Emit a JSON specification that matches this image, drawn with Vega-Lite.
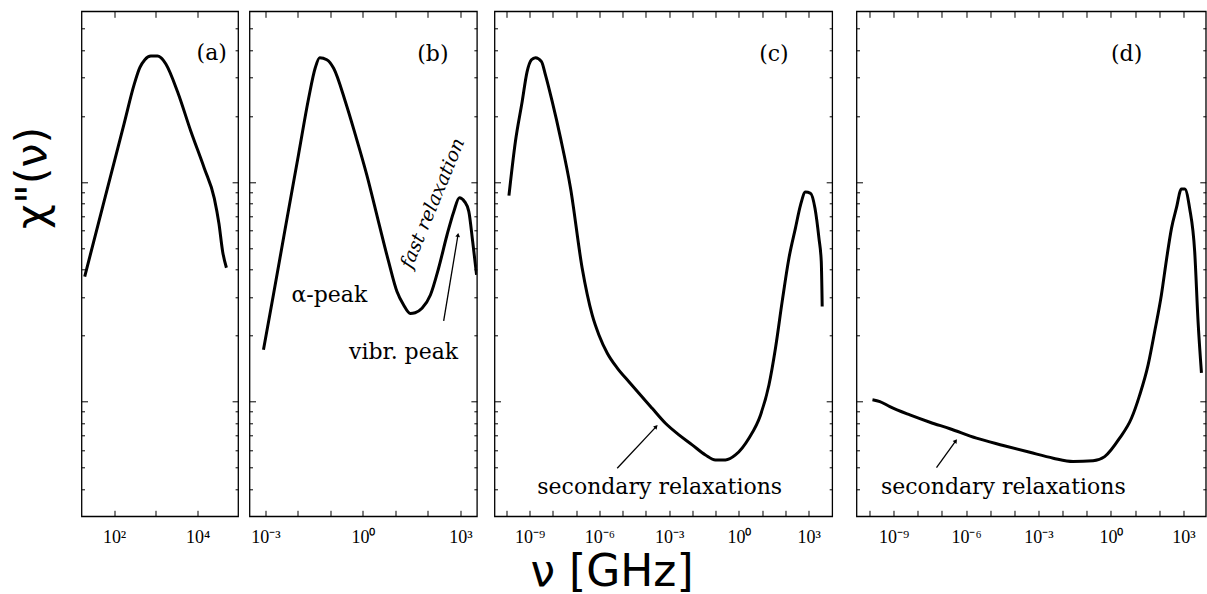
{
  "$schema": "https://vega.github.io/schema/vega-lite/v6.json",
  "background": "white",
  "padding": {"left": 10.5, "top": 9.3, "right": 0, "bottom": 0},
  "autosize": {"type": "pad"},
  "config": {
    "view": {"stroke": "black", "strokeWidth": 1.3},
    "axis": {"domain": false, "grid": false, "tickColor": "black", "tickWidth": 1, "labelFont": "Liberation Serif", "labelFontSize": 18, "labelColor": "black", "labelFlush": false, "labelOverlap": false, "titleColor": "black"},
    "text": {"color": "black"}
  },
  "datasets": {
    "curveA": [
      {"nu": 19.8, "chi": 0.371}, {"nu": 52.7, "chi": 0.765}, {"nu": 100, "chi": 1.227}, {"nu": 174, "chi": 1.848},
      {"nu": 302, "chi": 2.78}, {"nu": 413, "chi": 3.32}, {"nu": 545, "chi": 3.61}, {"nu": 759, "chi": 3.75},
      {"nu": 1096, "chi": 3.75}, {"nu": 1318, "chi": 3.69}, {"nu": 1738, "chi": 3.45}, {"nu": 3311, "chi": 2.58},
      {"nu": 6918, "chi": 1.70}, {"nu": 14454, "chi": 1.156}, {"nu": 25119, "chi": 0.843}, {"nu": 32430, "chi": 0.647},
      {"nu": 39811, "chi": 0.482}, {"nu": 49000, "chi": 0.407}
    ],
    "curveB": [
      {"nu": 0.000871, "chi": 0.172}, {"nu": 0.00178, "chi": 0.309}, {"nu": 0.00407, "chi": 0.614}, {"nu": 0.0105, "chi": 1.34},
      {"nu": 0.0214, "chi": 2.41}, {"nu": 0.0339, "chi": 3.30}, {"nu": 0.0468, "chi": 3.69}, {"nu": 0.0776, "chi": 3.61},
      {"nu": 0.126, "chi": 3.30}, {"nu": 0.288, "chi": 2.33}, {"nu": 0.589, "chi": 1.64}, {"nu": 1.318, "chi": 1.079},
      {"nu": 3.02, "chi": 0.661}, {"nu": 6.17, "chi": 0.435}, {"nu": 11.2, "chi": 0.317}, {"nu": 17.8, "chi": 0.276},
      {"nu": 28.8, "chi": 0.252}, {"nu": 40.7, "chi": 0.254}, {"nu": 66.1, "chi": 0.266}, {"nu": 120, "chi": 0.306},
      {"nu": 214, "chi": 0.405}, {"nu": 389, "chi": 0.574}, {"nu": 631, "chi": 0.735}, {"nu": 933, "chi": 0.849},
      {"nu": 1349, "chi": 0.815}, {"nu": 1820, "chi": 0.735}, {"nu": 2399, "chi": 0.536}, {"nu": 3162, "chi": 0.378}
    ],
    "curveC": [
      {"nu": 1.29e-10, "chi": 0.867}, {"nu": 2.45e-10, "chi": 1.531}, {"nu": 4.79e-10, "chi": 2.33}, {"nu": 7.76e-10, "chi": 3.18},
      {"nu": 1.20e-9, "chi": 3.61}, {"nu": 1.78e-9, "chi": 3.69}, {"nu": 3.24e-9, "chi": 3.54}, {"nu": 4.79e-9, "chi": 3.08},
      {"nu": 9.33e-9, "chi": 2.33}, {"nu": 2.14e-8, "chi": 1.585}, {"nu": 5.75e-8, "chi": 0.938}, {"nu": 1.82e-7, "chi": 0.405},
      {"nu": 4.90e-7, "chi": 0.248}, {"nu": 9.55e-7, "chi": 0.201}, {"nu": 2.19e-6, "chi": 0.166}, {"nu": 5.89e-6, "chi": 0.142},
      {"nu": 1.86e-5, "chi": 0.123}, {"nu": 5.01e-5, "chi": 0.109}, {"nu": 1.86e-4, "chi": 0.0931}, {"nu": 6.92e-4, "chi": 0.0796},
      {"nu": 0.00263, "chi": 0.0705}, {"nu": 0.00977, "chi": 0.0635}, {"nu": 0.0363, "chi": 0.0571}, {"nu": 0.0977, "chi": 0.0542},
      {"nu": 0.263, "chi": 0.0542}, {"nu": 0.708, "chi": 0.0571}, {"nu": 2.69, "chi": 0.0681}, {"nu": 8.51, "chi": 0.0869},
      {"nu": 19.5, "chi": 0.119}, {"nu": 37.2, "chi": 0.175}, {"nu": 72.4, "chi": 0.286}, {"nu": 141, "chi": 0.450},
      {"nu": 269, "chi": 0.617}, {"nu": 447, "chi": 0.787}, {"nu": 724, "chi": 0.900}, {"nu": 1202, "chi": 0.889},
      {"nu": 1862, "chi": 0.760}, {"nu": 2754, "chi": 0.555}, {"nu": 3467, "chi": 0.435}, {"nu": 3802, "chi": 0.271}
    ],
    "curveD": [
      {"nu": 1.32e-10, "chi": 0.102}, {"nu": 2.69e-10, "chi": 0.100}, {"nu": 6.92e-10, "chi": 0.0948}, {"nu": 4.68e-9, "chi": 0.0869},
      {"nu": 3.16e-8, "chi": 0.0805}, {"nu": 2.14e-7, "chi": 0.0752}, {"nu": 2.69e-6, "chi": 0.0681}, {"nu": 3.47e-5, "chi": 0.0631},
      {"nu": 4.37e-4, "chi": 0.0587}, {"nu": 0.00407, "chi": 0.0552}, {"nu": 0.0269, "chi": 0.0533}, {"nu": 0.182, "chi": 0.0537},
      {"nu": 0.550, "chi": 0.0561}, {"nu": 2.29, "chi": 0.0681}, {"nu": 7.08, "chi": 0.0839}, {"nu": 15.5, "chi": 0.107},
      {"nu": 34.7, "chi": 0.147}, {"nu": 64.6, "chi": 0.208}, {"nu": 123, "chi": 0.306}, {"nu": 200, "chi": 0.443},
      {"nu": 324, "chi": 0.617}, {"nu": 513, "chi": 0.760}, {"nu": 832, "chi": 0.931}, {"nu": 1148, "chi": 0.931},
      {"nu": 1820, "chi": 0.760}, {"nu": 2951, "chi": 0.482}, {"nu": 4074, "chi": 0.231}, {"nu": 5623, "chi": 0.135}
    ],
    "notes": [
      {"panel": "a", "text": "(a)", "nu": 21800, "chi": 3.59},
      {"panel": "b", "text": "(b)", "nu": 142.6, "chi": 3.56},
      {"panel": "b", "text": "α-peak", "nu": 0.0929, "chi": 0.2855},
      {"panel": "b", "text": "vibr. peak", "nu": 17.9, "chi": 0.157},
      {"panel": "c", "text": "(c)", "nu": 32.0, "chi": 3.56},
      {"panel": "c", "text": "secondary relaxations", "nu": 0.000392, "chi": 0.0381},
      {"panel": "d", "text": "(d)", "nu": 4.47, "chi": 3.56},
      {"panel": "d", "text": "secondary relaxations", "nu": 0.0000347, "chi": 0.0381}
    ],
    "rotnotes": [
      {"panel": "b", "text": "fast relaxation", "nu": 140.6, "chi": 0.800}
    ],
    "arrows": [
      {"panel": "b", "nu": 307, "chi": 0.233, "nu2": 847, "chi2": 0.574},
      {"panel": "c", "nu": 5.83e-6, "chi": 0.0497, "nu2": 2.77e-4, "chi2": 0.0769},
      {"panel": "d", "nu": 5.94e-8, "chi": 0.0500, "nu2": 3.74e-7, "chi2": 0.0662}
    ],
    "blank": [{"t": ""}]
  },
  "bounds": "flush",
  "spacing": 2,
  "hconcat": [
    {
      "width": 156.6,
      "height": 505,
      "layer": [
        {
          "data": {"name": "curveA"},
          "mark": {"type": "line", "color": "black", "strokeWidth": 3, "interpolate": "monotone", "clip": true},
          "encoding": {
            "x": {"field": "nu", "type": "quantitative", "scale": {"type": "log", "domain": [16.6, 93300], "nice": false},
              "axis": {"orient": "bottom", "values": [100, 1000, 10000], "tickSize": -6, "labelPadding": 18, "labelExpr": "datum.value == 100 ? '10²' : datum.value == 10000 ? '10⁴' : ''", "title": null}},
            "y": {"field": "chi", "type": "quantitative", "scale": {"type": "log", "domain": [0.03, 6], "nice": false},
              "axis": {"orient": "left", "values": [0.04, 0.05, 0.06, 0.07, 0.08, 0.09, 0.1, 0.2, 0.3, 0.4, 0.5, 0.6, 0.7, 0.8, 0.9, 1, 2, 3, 4, 5], "labels": false,
                "tickSize": {"condition": {"test": "datum.value == 1 || datum.value == 0.1", "value": -6}, "value": -3},
                "title": "χ\"(ν)", "titleFont": "DejaVu Sans", "titleFontSize": 43, "titleFontWeight": "normal", "titleAngle": -90, "titleAlign": "center", "titleBaseline": "middle", "titleX": -48.7, "titleY": 166}}
          }
        },
        {
          "data": {"name": "notes"},
          "transform": [{"filter": "datum.panel == 'a'"}],
          "mark": {"type": "text", "font": "DejaVu Serif", "fontSize": 22, "align": "center", "baseline": "alphabetic"},
          "encoding": {
            "x": {"field": "nu", "type": "quantitative", "axis": {"orient": "top", "values": [100, 1000, 10000], "tickSize": -6, "labels": false, "title": null}},
            "y": {"field": "chi", "type": "quantitative", "axis": {"orient": "right", "values": [0.04, 0.05, 0.06, 0.07, 0.08, 0.09, 0.1, 0.2, 0.3, 0.4, 0.5, 0.6, 0.7, 0.8, 0.9, 1, 2, 3, 4, 5], "labels": false,
                "tickSize": {"condition": {"test": "datum.value == 1 || datum.value == 0.1", "value": -6}, "value": -3}, "title": null}},
            "text": {"field": "text"}
          }
        }
      ],
      "resolve": {"axis": {"x": "independent", "y": "independent"}}
    },
    {
      "width": 7, "height": 505, "view": {"stroke": null},
      "data": {"name": "blank"}, "mark": {"type": "text"}, "encoding": {"text": {"field": "t"}}
    },
    {
      "width": 227.4,
      "height": 505,
      "layer": [
        {
          "data": {"name": "curveB"},
          "mark": {"type": "line", "color": "black", "strokeWidth": 3, "interpolate": "monotone", "clip": true},
          "encoding": {
            "x": {"field": "nu", "type": "quantitative", "scale": {"type": "log", "domain": [0.0003236, 3236], "nice": false},
              "axis": {"orient": "bottom", "values": [0.001, 0.01, 0.1, 1, 10, 100, 1000], "tickSize": -6, "labelPadding": 18, "labelExpr": "datum.value == 0.001 ? '10⁻³' : datum.value == 1 ? '10⁰' : datum.value == 1000 ? '10³' : ''", "title": null}},
            "y": {"field": "chi", "type": "quantitative", "scale": {"type": "log", "domain": [0.03, 6], "nice": false},
              "axis": {"orient": "left", "values": [0.04, 0.05, 0.06, 0.07, 0.08, 0.09, 0.1, 0.2, 0.3, 0.4, 0.5, 0.6, 0.7, 0.8, 0.9, 1, 2, 3, 4, 5], "labels": false,
                "tickSize": {"condition": {"test": "datum.value == 1 || datum.value == 0.1", "value": -6}, "value": -3}, "title": null}}
          }
        },
        {
          "data": {"name": "notes"},
          "transform": [{"filter": "datum.panel == 'b'"}],
          "mark": {"type": "text", "font": "DejaVu Serif", "fontSize": 22, "align": "center", "baseline": "alphabetic"},
          "encoding": {
            "x": {"field": "nu", "type": "quantitative", "axis": {"orient": "top", "values": [0.001, 0.01, 0.1, 1, 10, 100, 1000], "tickSize": -6, "labels": false, "title": null}},
            "y": {"field": "chi", "type": "quantitative", "axis": {"orient": "right", "values": [0.04, 0.05, 0.06, 0.07, 0.08, 0.09, 0.1, 0.2, 0.3, 0.4, 0.5, 0.6, 0.7, 0.8, 0.9, 1, 2, 3, 4, 5], "labels": false,
                "tickSize": {"condition": {"test": "datum.value == 1 || datum.value == 0.1", "value": -6}, "value": -3}, "title": null}},
            "text": {"field": "text"}
          }
        },
        {
          "data": {"name": "rotnotes"},
          "mark": {"type": "text", "font": "DejaVu Serif", "fontSize": 19, "fontStyle": "italic", "align": "center", "baseline": "middle", "angle": -67.5},
          "encoding": {
            "x": {"field": "nu", "type": "quantitative", "axis": null},
            "y": {"field": "chi", "type": "quantitative", "axis": null},
            "text": {"field": "text"}
          }
        },
        {
          "data": {"name": "arrows"},
          "transform": [{"filter": "datum.panel == 'b'"}],
          "mark": {"type": "rule", "color": "black", "strokeWidth": 1.3},
          "encoding": {
            "x": {"field": "nu", "type": "quantitative", "axis": null},
            "y": {"field": "chi", "type": "quantitative", "axis": null},
            "x2": {"field": "nu2"},
            "y2": {"field": "chi2"}
          }
        },
        {
          "data": {"name": "arrows"},
          "transform": [{"filter": "datum.panel == 'b'"}],
          "mark": {"type": "point", "shape": "triangle-up", "filled": true, "color": "black", "opacity": 1, "size": 22, "angle": 9.4},
          "encoding": {
            "x": {"field": "nu2", "type": "quantitative", "axis": null},
            "y": {"field": "chi2", "type": "quantitative", "axis": null}
          }
        }
      ],
      "resolve": {"axis": {"x": "independent", "y": "independent"}}
    },
    {
      "width": 12.6, "height": 505, "view": {"stroke": null},
      "data": {"name": "blank"}, "mark": {"type": "text"}, "encoding": {"text": {"field": "t"}}
    },
    {
      "width": 337.7,
      "height": 505,
      "layer": [
        {
          "data": {"name": "curveC"},
          "mark": {"type": "line", "color": "black", "strokeWidth": 3, "interpolate": "monotone", "clip": true},
          "encoding": {
            "x": {"field": "nu", "type": "quantitative", "scale": {"type": "log", "domain": [3.09e-11, 10233], "nice": false},
              "axis": {"orient": "bottom", "values": [1e-10, 1e-9, 1e-8, 1e-7, 1e-6, 1e-5, 1e-4, 0.001, 0.01, 0.1, 1, 10, 100, 1000], "tickSize": -6, "labelPadding": 18,
                "labelExpr": "round(log(datum.value)/LN10) == -9 ? '10⁻⁹' : round(log(datum.value)/LN10) == -6 ? '10⁻⁶' : round(log(datum.value)/LN10) == -3 ? '10⁻³' : round(log(datum.value)/LN10) == 0 ? '10⁰' : round(log(datum.value)/LN10) == 3 ? '10³' : ''",
                "title": "ν [GHz]", "titleFont": "DejaVu Sans", "titleFontSize": 44, "titleFontWeight": "normal", "titleAlign": "center", "titleBaseline": "alphabetic", "titleX": 117, "titleY": 69.5}},
            "y": {"field": "chi", "type": "quantitative", "scale": {"type": "log", "domain": [0.03, 6], "nice": false},
              "axis": {"orient": "left", "values": [0.04, 0.05, 0.06, 0.07, 0.08, 0.09, 0.1, 0.2, 0.3, 0.4, 0.5, 0.6, 0.7, 0.8, 0.9, 1, 2, 3, 4, 5], "labels": false,
                "tickSize": {"condition": {"test": "datum.value == 1 || datum.value == 0.1", "value": -6}, "value": -3}, "title": null}}
          }
        },
        {
          "data": {"name": "notes"},
          "transform": [{"filter": "datum.panel == 'c'"}],
          "mark": {"type": "text", "font": "DejaVu Serif", "fontSize": 22, "align": "center", "baseline": "alphabetic"},
          "encoding": {
            "x": {"field": "nu", "type": "quantitative", "axis": {"orient": "top", "values": [1e-10, 1e-9, 1e-8, 1e-7, 1e-6, 1e-5, 1e-4, 0.001, 0.01, 0.1, 1, 10, 100, 1000], "tickSize": -6, "labels": false, "title": null}},
            "y": {"field": "chi", "type": "quantitative", "axis": {"orient": "right", "values": [0.04, 0.05, 0.06, 0.07, 0.08, 0.09, 0.1, 0.2, 0.3, 0.4, 0.5, 0.6, 0.7, 0.8, 0.9, 1, 2, 3, 4, 5], "labels": false,
                "tickSize": {"condition": {"test": "datum.value == 1 || datum.value == 0.1", "value": -6}, "value": -3}, "title": null}},
            "text": {"field": "text"}
          }
        },
        {
          "data": {"name": "arrows"},
          "transform": [{"filter": "datum.panel == 'c'"}],
          "mark": {"type": "rule", "color": "black", "strokeWidth": 1.3},
          "encoding": {
            "x": {"field": "nu", "type": "quantitative", "axis": null},
            "y": {"field": "chi", "type": "quantitative", "axis": null},
            "x2": {"field": "nu2"},
            "y2": {"field": "chi2"}
          }
        },
        {
          "data": {"name": "arrows"},
          "transform": [{"filter": "datum.panel == 'c'"}],
          "mark": {"type": "point", "shape": "triangle-up", "filled": true, "color": "black", "opacity": 1, "size": 22, "angle": 43},
          "encoding": {
            "x": {"field": "nu2", "type": "quantitative", "axis": null},
            "y": {"field": "chi2", "type": "quantitative", "axis": null}
          }
        }
      ],
      "resolve": {"axis": {"x": "independent", "y": "independent"}}
    },
    {
      "width": 20, "height": 505, "view": {"stroke": null},
      "data": {"name": "blank"}, "mark": {"type": "text"}, "encoding": {"text": {"field": "t"}}
    },
    {
      "width": 349.3,
      "height": 505,
      "layer": [
        {
          "data": {"name": "curveD"},
          "mark": {"type": "line", "color": "black", "strokeWidth": 3, "interpolate": "monotone", "clip": true},
          "encoding": {
            "x": {"field": "nu", "type": "quantitative", "scale": {"type": "log", "domain": [2.88e-11, 8511], "nice": false},
              "axis": {"orient": "bottom", "values": [1e-10, 1e-9, 1e-8, 1e-7, 1e-6, 1e-5, 1e-4, 0.001, 0.01, 0.1, 1, 10, 100, 1000], "tickSize": -6, "labelPadding": 18,
                "labelExpr": "round(log(datum.value)/LN10) == -9 ? '10⁻⁹' : round(log(datum.value)/LN10) == -6 ? '10⁻⁶' : round(log(datum.value)/LN10) == -3 ? '10⁻³' : round(log(datum.value)/LN10) == 0 ? '10⁰' : round(log(datum.value)/LN10) == 3 ? '10³' : ''",
                "title": null}},
            "y": {"field": "chi", "type": "quantitative", "scale": {"type": "log", "domain": [0.03, 6], "nice": false},
              "axis": {"orient": "left", "values": [0.04, 0.05, 0.06, 0.07, 0.08, 0.09, 0.1, 0.2, 0.3, 0.4, 0.5, 0.6, 0.7, 0.8, 0.9, 1, 2, 3, 4, 5], "labels": false,
                "tickSize": {"condition": {"test": "datum.value == 1 || datum.value == 0.1", "value": -6}, "value": -3}, "title": null}}
          }
        },
        {
          "data": {"name": "notes"},
          "transform": [{"filter": "datum.panel == 'd'"}],
          "mark": {"type": "text", "font": "DejaVu Serif", "fontSize": 22, "align": "center", "baseline": "alphabetic"},
          "encoding": {
            "x": {"field": "nu", "type": "quantitative", "axis": {"orient": "top", "values": [1e-10, 1e-9, 1e-8, 1e-7, 1e-6, 1e-5, 1e-4, 0.001, 0.01, 0.1, 1, 10, 100, 1000], "tickSize": -6, "labels": false, "title": null}},
            "y": {"field": "chi", "type": "quantitative", "axis": {"orient": "right", "values": [0.04, 0.05, 0.06, 0.07, 0.08, 0.09, 0.1, 0.2, 0.3, 0.4, 0.5, 0.6, 0.7, 0.8, 0.9, 1, 2, 3, 4, 5], "labels": false,
                "tickSize": {"condition": {"test": "datum.value == 1 || datum.value == 0.1", "value": -6}, "value": -3}, "title": null}},
            "text": {"field": "text"}
          }
        },
        {
          "data": {"name": "arrows"},
          "transform": [{"filter": "datum.panel == 'd'"}],
          "mark": {"type": "rule", "color": "black", "strokeWidth": 1.3},
          "encoding": {
            "x": {"field": "nu", "type": "quantitative", "axis": null},
            "y": {"field": "chi", "type": "quantitative", "axis": null},
            "x2": {"field": "nu2"},
            "y2": {"field": "chi2"}
          }
        },
        {
          "data": {"name": "arrows"},
          "transform": [{"filter": "datum.panel == 'd'"}],
          "mark": {"type": "point", "shape": "triangle-up", "filled": true, "color": "black", "opacity": 1, "size": 22, "angle": 36},
          "encoding": {
            "x": {"field": "nu2", "type": "quantitative", "axis": null},
            "y": {"field": "chi2", "type": "quantitative", "axis": null}
          }
        }
      ],
      "resolve": {"axis": {"x": "independent", "y": "independent"}}
    }
  ]
}
